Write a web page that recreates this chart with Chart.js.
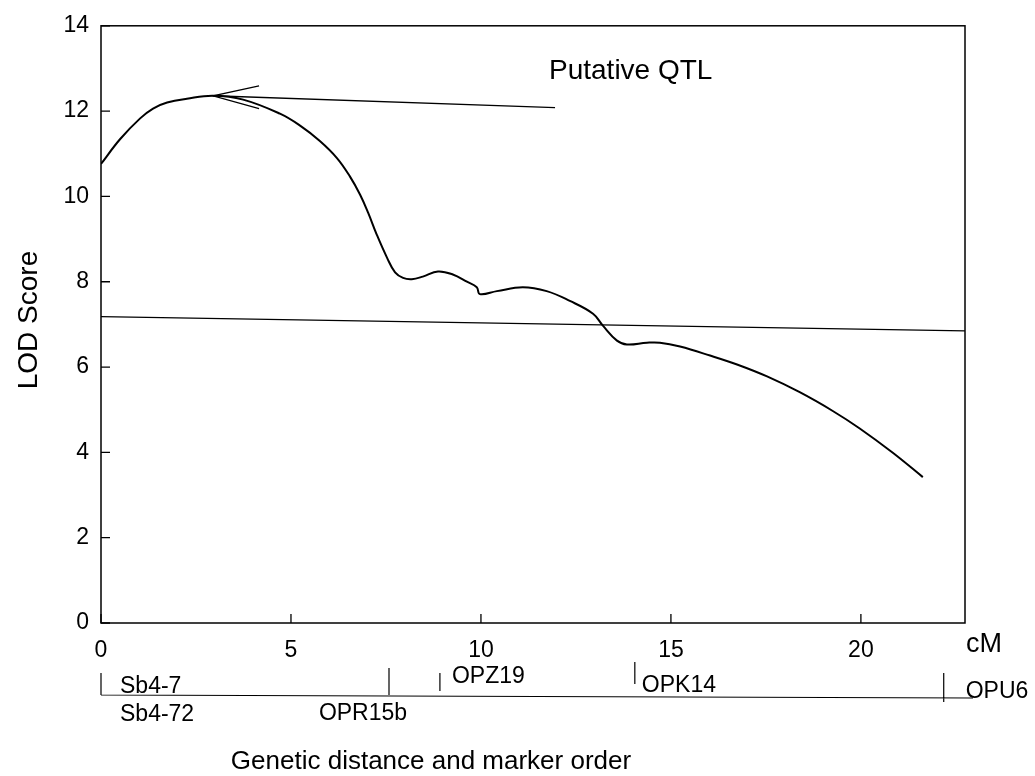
<!DOCTYPE html>
<html><head><meta charset="utf-8">
<script src="https://cdn.jsdelivr.net/npm/chart.js@4.4.1/dist/chart.umd.min.js"></script>
<style>html,body{margin:0;padding:0;background:#fff}canvas{display:block}</style>
</head><body>
<canvas id="c" width="1035" height="776"></canvas>
<script>
// ---- data ----
const positionsCM = [0, 0.5, 1.03, 1.37, 1.74, 2.26, 2.95, 3.74, 4.71, 5.24, 5.76, 6.21, 6.55, 6.82, 7.03, 7.26, 7.53, 7.74, 7.95, 8.18, 8.47, 8.87, 9.26, 9.63, 9.89, 9.97, 10.42, 11.1, 11.73, 12.34, 12.95, 13.21, 13.58, 13.84, 14.37, 14.71, 15.24, 16.03, 16.74, 17.53, 18.39, 19.26, 19.97, 20.84, 21.63];
const lodScores   = [10.76, 11.34, 11.83, 12.06, 12.2, 12.29, 12.36, 12.27, 11.94, 11.66, 11.3, 10.9, 10.47, 10.04, 9.62, 9.1, 8.56, 8.22, 8.09, 8.06, 8.12, 8.24, 8.17, 8.0, 7.87, 7.71, 7.78, 7.87, 7.78, 7.55, 7.25, 6.97, 6.62, 6.53, 6.57, 6.57, 6.48, 6.27, 6.06, 5.78, 5.41, 4.97, 4.56, 3.99, 3.42];
const thresholdX = [0, 22.74];
const thresholdY = [7.18, 6.85];
const arrowShaftX = [11.95, 2.95];
const arrowShaftY = [12.08, 12.36];
const arrowHeadX = [4.16, 2.95, 4.16];
const arrowHeadY = [12.59, 12.36, 12.06];
const xTickValues = [0, 5, 10, 15, 20];
const yTickValues = [0, 2, 4, 6, 8, 10, 12, 14];
const xMax = 22.74;
const markerNames = ['Sb4-7', 'Sb4-72', 'OPR15b', 'OPZ19', 'OPK14', 'OPU6'];
const markerCM    = [0, 0, 7.58, 8.92, 14.05, 22.18];
const markerLineEndCM = 22.95;
const annotationText = 'Putative QTL';
const xTitle = 'Genetic distance and marker order';
const yTitle = 'LOD Score';
const unitText = 'cM';

const FONT = '"Liberation Sans", Arial, sans-serif';
const pts = (xs, ys) => xs.map((x, i) => ({x: x, y: ys[i]}));

// label layout for marker row (pixels relative to marker tick)
const markerLayout = [
  {dx: 19, base: 693, align: 'left',   t1: 673, t2: 695},
  {dx: 19, base: 721, align: 'left',   t1: 673, t2: 695},
  {dx: -26, base: 720, align: 'center', t1: 668, t2: 695},
  {dx: 12, base: 683, align: 'left',   t1: 673, t2: 691},
  {dx: 7,  base: 692, align: 'left',   t1: 662, t2: 684},
  {dx: 22, base: 698, align: 'left',   t1: 673, t2: 702}
];

const decor = {
  id: 'decor',
  afterDraw(chart) {
    const {ctx, chartArea: a, scales: {x, y}} = chart;
    ctx.save();
    ctx.strokeStyle = '#000';
    ctx.fillStyle = '#000';
    // frame
    ctx.lineWidth = 1.5;
    ctx.strokeRect(a.left, a.top, a.right - a.left, a.bottom - a.top);
    // inward ticks
    ctx.lineWidth = 1.3;
    ctx.beginPath();
    yTickValues.forEach(v => { const py = y.getPixelForValue(v); ctx.moveTo(a.left, py); ctx.lineTo(a.left + 9, py); });
    xTickValues.forEach(v => { const px = x.getPixelForValue(v); ctx.moveTo(px, a.bottom); ctx.lineTo(px, a.bottom - 9); });
    ctx.stroke();
    // marker row
    ctx.lineWidth = 1.2;
    ctx.beginPath();
    ctx.moveTo(x.getPixelForValue(0), 695);
    ctx.lineTo(x.getPixelForValue(markerLineEndCM), 698);
    markerCM.forEach((cm, i) => {
      const px = x.getPixelForValue(cm), L = markerLayout[i];
      ctx.moveTo(px, L.t1); ctx.lineTo(px, L.t2);
    });
    ctx.stroke();
    ctx.font = '23px ' + FONT;
    ctx.textBaseline = 'alphabetic';
    markerNames.forEach((name, i) => {
      const px = x.getPixelForValue(markerCM[i]), L = markerLayout[i];
      ctx.textAlign = L.align;
      ctx.fillText(name, px + L.dx, L.base);
    });
    // texts
    ctx.textAlign = 'left';
    ctx.font = '28px ' + FONT;
    ctx.fillText(annotationText, 549, 79);
    ctx.font = '27px ' + FONT;
    ctx.fillText(unitText, 966, 652);
    ctx.font = '26px ' + FONT;
    ctx.textAlign = 'center';
    ctx.fillText(xTitle, 431, 769);
    ctx.font = '28px ' + FONT;
    ctx.save();
    ctx.translate(37, 320);
    ctx.rotate(-Math.PI / 2);
    ctx.fillText(yTitle, 0, 0);
    ctx.restore();
    ctx.restore();
  }
};

new Chart(document.getElementById('c'), {
  type: 'line',
  data: {
    datasets: [
      {data: pts(positionsCM, lodScores), borderColor: '#000', borderWidth: 2, pointRadius: 0, tension: 0.4, fill: false},
      {data: pts(thresholdX, thresholdY), borderColor: '#000', borderWidth: 1.3, pointRadius: 0, fill: false},
      {data: pts(arrowShaftX, arrowShaftY), borderColor: '#000', borderWidth: 1.3, pointRadius: 0, fill: false},
      {data: pts(arrowHeadX, arrowHeadY), borderColor: '#000', borderWidth: 1.3, pointRadius: 0, fill: false}
    ]
  },
  options: {
    responsive: false,
    animation: false,
    layout: {padding: {top: 18, right: 70, left: 0, bottom: 0}},
    plugins: {legend: {display: false}, tooltip: {enabled: false}},
    scales: {
      x: {
        type: 'linear', min: 0, max: xMax,
        afterBuildTicks: s => { s.ticks = xTickValues.map(v => ({value: v})); },
        afterFit: s => { s.height = 153; },
        grid: {display: false, drawTicks: false},
        border: {display: false},
        ticks: {color: '#000', font: {family: FONT, size: 23}, padding: 14, maxRotation: 0, autoSkip: false}
      },
      y: {
        type: 'linear', min: 0, max: 14,
        afterBuildTicks: s => { s.ticks = yTickValues.map(v => ({value: v})); },
        afterFit: s => { s.width = 101; },
        grid: {display: false, drawTicks: false},
        border: {display: false},
        ticks: {color: '#000', font: {family: FONT, size: 23}, padding: 12, autoSkip: false}
      }
    }
  },
  plugins: [decor]
});
</script>
</body></html>
